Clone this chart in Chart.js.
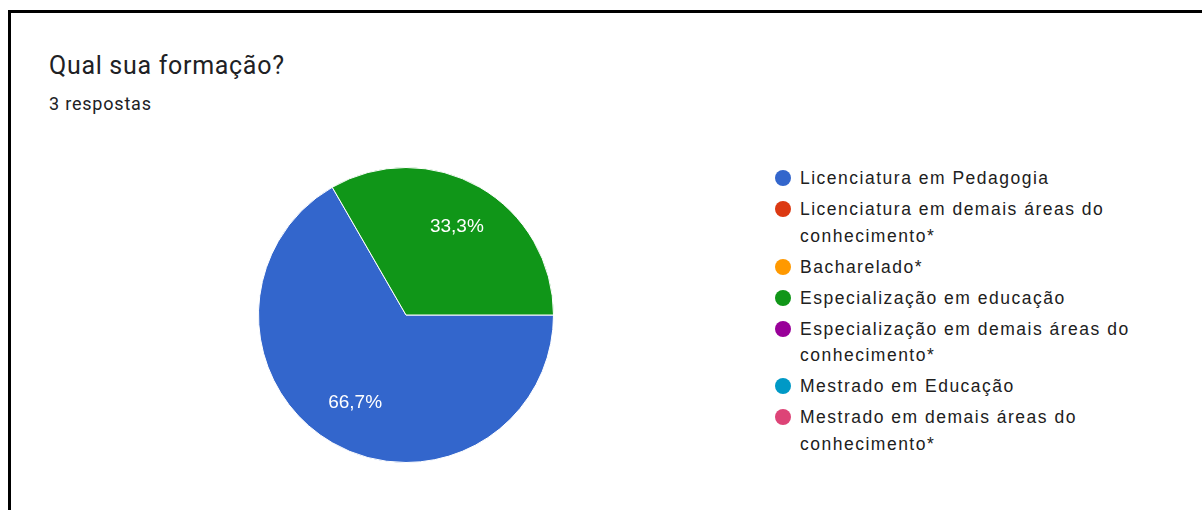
<!DOCTYPE html>
<html>
<head>
<meta charset="utf-8">
<script src="https://cdn.jsdelivr.net/npm/chart.js@4.4.0/dist/chart.umd.min.js"></script>
<style>
  html, body { margin: 0; padding: 0; background: #fff; }
  body { width: 1202px; height: 510px; position: relative; overflow: hidden; }
  #frame { position: absolute; left: 8px; top: 10px; right: -10px; bottom: -10px;
    border-top: 3px solid #000; border-left: 3px solid #000; }
  #title { position: absolute; left: 49px; top: 53px; font: 25px/25px Roboto, Arial, sans-serif; color: #202124;
    letter-spacing: 0.7px; white-space: nowrap; }
  #subtitle { position: absolute; left: 49px; top: 95px; font: 18px/18px Roboto, Arial, sans-serif; color: #202124;
    letter-spacing: 0.8px; white-space: nowrap; }
  #pieBox { position: absolute; left: 256px; top: 165px; width: 300px; height: 300px; }
  #legend { position: absolute; left: 775px; top: 165px; font: 17.5px/26.5px "Liberation Sans", Arial, sans-serif;
    color: #202020; letter-spacing: 1.5px; }
  .item { display: flex; align-items: flex-start; margin-bottom: 4.5px; }
  .dot { width: 16px; height: 16px; border-radius: 50%; margin-top: 5px; margin-right: 9px; flex: none; }
</style>
</head>
<body>
<div id="frame"></div>
<div id="title">Qual sua formação?</div>
<div id="subtitle">3 respostas</div>
<div id="pieBox"><canvas id="pie" width="300" height="300"></canvas></div>
<div id="legend"></div>

<script>
// Categories (multi-line ones split the way the legend wraps them)
const categories = [
  ["Licenciatura em Pedagogia"],
  ["Licenciatura em demais áreas do", "conhecimento*"],
  ["Bacharelado*"],
  ["Especialização em educação"],
  ["Especialização em demais áreas do", "conhecimento*"],
  ["Mestrado em Educação"],
  ["Mestrado em demais áreas do", "conhecimento*"]
];
const responses = [2, 0, 0, 1, 0, 0, 0];
const colors = ["#3366cc", "#dc3912", "#ff9900", "#109618", "#990099", "#0099c6", "#dd4477"];

// Legend
document.getElementById("legend").innerHTML = categories.map((lines, i) => `
  <div class="item">
    <span class="dot" style="background:${colors[i]}"></span>
    <span>${lines.join("<br>")}</span>
  </div>
`).join("");

// Percent labels inside slices
const sliceLabels = {
  id: "sliceLabels",
  afterDatasetsDraw(chart) {
    const ctx = chart.ctx;
    const data = chart.data.datasets[0].data;
    const total = data.reduce((a, b) => a + b, 0);
    ctx.save();
    ctx.font = '19px "Liberation Sans", Arial, sans-serif';
    ctx.fillStyle = "#fff";
    ctx.textAlign = "center";
    ctx.textBaseline = "middle";
    chart.getDatasetMeta(0).data.forEach((arc, i) => {
      if (!data[i]) return;
      const p = arc.getProps(["x", "y", "startAngle", "endAngle", "outerRadius"], true);
      const mid = (p.startAngle + p.endAngle) / 2;
      const r = p.outerRadius * 0.69;
      const pct = (data[i] / total * 100).toFixed(1).replace(".", ",") + "%";
      ctx.fillText(pct, p.x + Math.cos(mid) * r, p.y + Math.sin(mid) * r);
    });
    ctx.restore();
  }
};

new Chart(document.getElementById("pie"), {
  type: "pie",
  data: {
    labels: categories,
    datasets: [{
      data: responses,
      backgroundColor: colors,
      borderColor: "#fff",
      borderWidth: 1
    }]
  },
  options: {
    responsive: false,
    animation: false,
    rotation: 90,
    layout: { padding: 2 },
    plugins: { legend: { display: false }, tooltip: { enabled: false } }
  },
  plugins: [sliceLabels]
});
</script>
</body>
</html>
